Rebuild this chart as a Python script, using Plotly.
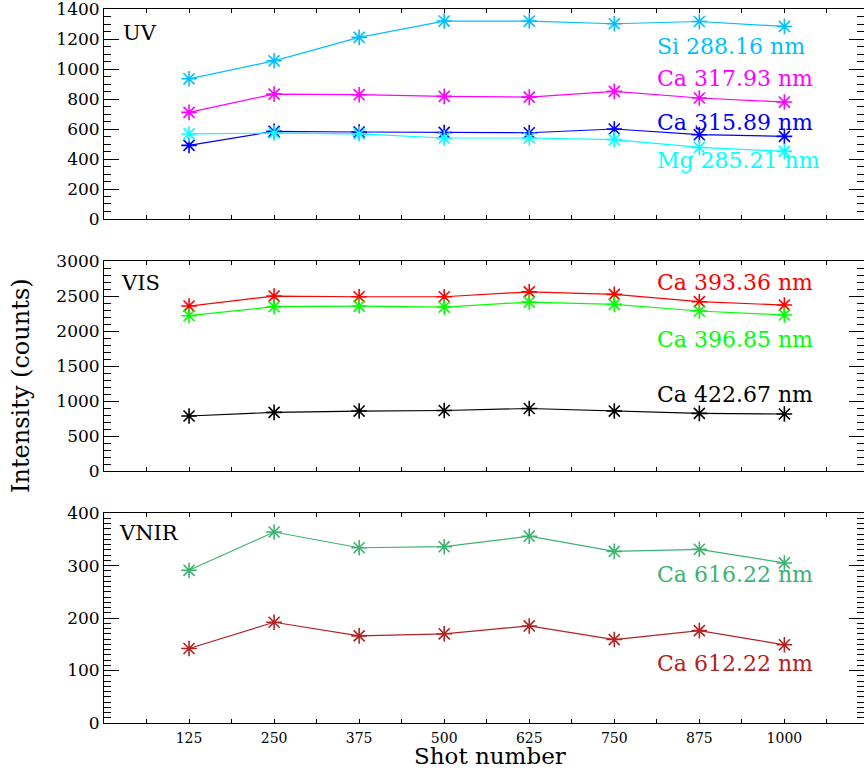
import plotly.graph_objects as go

# ---------------- data ----------------
shots = [125, 250, 375, 500, 625, 750, 875, 1000]

si288 = [935, 1055, 1211, 1320, 1320, 1302, 1317, 1284]
ca317 = [711, 833, 829, 818, 813, 851, 807, 780]
ca315 = [491, 584, 580, 577, 575, 600, 562, 551]
mg285 = [567, 573, 567, 540, 540, 529, 477, 451]

ca393 = [2357, 2500, 2490, 2490, 2560, 2524, 2419, 2371]
ca396 = [2219, 2348, 2357, 2343, 2414, 2381, 2286, 2229]
ca422 = [786, 838, 857, 865, 893, 857, 824, 815]

ca616 = [291, 364, 334, 336, 356, 327, 331, 305]
ca612 = [142, 192, 166, 170, 185, 159, 176, 149]

x_tickvals = [62.5, 125, 187.5, 250, 312.5, 375, 437.5, 500, 562.5, 625,
              687.5, 750, 812.5, 875, 937.5, 1000, 1062.5]
x_ticktext = ["", "125", "", "250", "", "375", "", "500", "", "625",
              "", "750", "", "875", "", "1000", ""]

panel_names = ["UV", "VIS", "VNIR"]
series = [
    # (panel index, values, label, colour)
    (0, si288, "Si 288.16 nm", "#00BFFF"),
    (0, ca317, "Ca 317.93 nm", "#FF00FF"),
    (0, ca315, "Ca 315.89 nm", "#0000FF"),
    (0, mg285, "Mg 285.21 nm", "#00FFFF"),
    (1, ca393, "Ca 393.36 nm", "#FF0000"),
    (1, ca396, "Ca 396.85 nm", "#00FF00"),
    (1, ca422, "Ca 422.67 nm", "#000000"),
    (2, ca616, "Ca 616.22 nm", "#3CB371"),
    (2, ca612, "Ca 612.22 nm", "#B22222"),
]

# ---------------- layout helpers ----------------
W, H = 864, 771
ML, MR, MT, MB = 104, 0, 9, 48
PW, PH = W - ML - MR, H - MT - MB


def px_x(px):
    return (px - ML) / PW


def px_y(py):
    return (H - MB - py) / PH


FONT = "DejaVu Serif"

fig = go.Figure()

for idx, vals, name, col in series:
    sfx = "" if idx == 0 else str(idx + 1)
    fig.add_trace(go.Scatter(
        x=shots, y=vals, mode="lines+markers", name=name,
        xaxis="x" + sfx, yaxis="y" + sfx,
        line=dict(color=col, width=1.2),
        marker=dict(symbol="asterisk-open", size=13,
                    line=dict(color=col, width=1.6)),
        showlegend=False, hoverinfo="skip",
    ))

domains = [[0.7059, 1.0], [0.3529, 0.6471], [0.0, 0.2941]]
yranges = [[0, 1400.5], [0, 3001], [0, 400.2]]
ydticks = [200, 500, 100]
yminor = [50, 100, 10]

layout = dict(
    width=W, height=H, autosize=False,
    margin=dict(l=ML, r=MR, t=MT, b=MB, autoexpand=False),
    paper_bgcolor="white", plot_bgcolor="white",
    font=dict(family=FONT, color="black"),
    showlegend=False,
)

for i in range(3):
    sfx = "" if i == 0 else str(i + 1)
    layout["xaxis" + sfx] = dict(
        domain=[0, 1], range=[0, 1117], anchor="y" + sfx,
        tickmode="array", tickvals=x_tickvals,
        ticktext=x_ticktext if i == 2 else [""] * len(x_tickvals),
        showticklabels=(i == 2),
        ticks="inside", ticklen=4, tickwidth=1, tickcolor="black",
        ticklabelstandoff=2,
        showline=True, linecolor="black", linewidth=1, mirror="ticks",
        showgrid=False, zeroline=False,
        tickfont=dict(family=FONT, size=14, color="black"),
        **({} if i == 0 else {"matches": "x"}),
    )
    layout["yaxis" + sfx] = dict(
        domain=domains[i], range=yranges[i], anchor="x" + sfx,
        dtick=ydticks[i], tick0=0,
        ticks="inside", ticklen=15, tickwidth=1, tickcolor="black",
        ticklabeloverflow="allow",
        minor=dict(dtick=yminor[i], tick0=0, ticks="inside", ticklen=7,
                   tickwidth=1, tickcolor="black", showgrid=False),
        showline=True, linecolor="black", linewidth=1, mirror="ticks",
        showgrid=False, zeroline=False,
        tickfont=dict(family=FONT, size=17, color="black"),
    )

fig.update_layout(**layout)

# series labels (pixel positions -> paper coordinates)
label_pos = {
    "Si 288.16 nm": 46.5, "Ca 317.93 nm": 78.5, "Ca 315.89 nm": 122.5,
    "Mg 285.21 nm": 160, "Ca 393.36 nm": 282.5, "Ca 396.85 nm": 339,
    "Ca 422.67 nm": 394, "Ca 616.22 nm": 574, "Ca 612.22 nm": 663.5,
}
for idx, vals, name, col in series:
    fig.add_annotation(
        xref="paper", yref="paper", x=px_x(655), y=px_y(label_pos[name]),
        xanchor="left", yanchor="middle", text=name, showarrow=False,
        font=dict(family=FONT, size=22, color=col),
    )

panel_pos = [(121, 32.5), (119, 282.5), (117, 532.5)]
for name, (px, py) in zip(panel_names, panel_pos):
    fig.add_annotation(
        xref="paper", yref="paper", x=px_x(px), y=px_y(py),
        xanchor="left", yanchor="middle", text=name, showarrow=False,
        font=dict(family=FONT, size=21, color="black"),
    )

# axis titles
fig.add_annotation(
    xref="paper", yref="paper", x=px_x(490), y=px_y(771),
    xanchor="center", yanchor="bottom", text="Shot number", showarrow=False,
    font=dict(family=FONT, size=23, color="black"),
)
fig.add_annotation(
    xref="paper", yref="paper", x=px_x(21), y=px_y(386),
    xanchor="center", yanchor="middle", text="Intensity (counts)",
    showarrow=False, textangle=-90,
    font=dict(family=FONT, size=24, color="black"),
)

fig.write_html(
    "out.html",
    config={"displayModeBar": False, "staticPlot": True},
    post_script="document.body.style.margin='0';document.body.style.overflow='hidden';",
)
